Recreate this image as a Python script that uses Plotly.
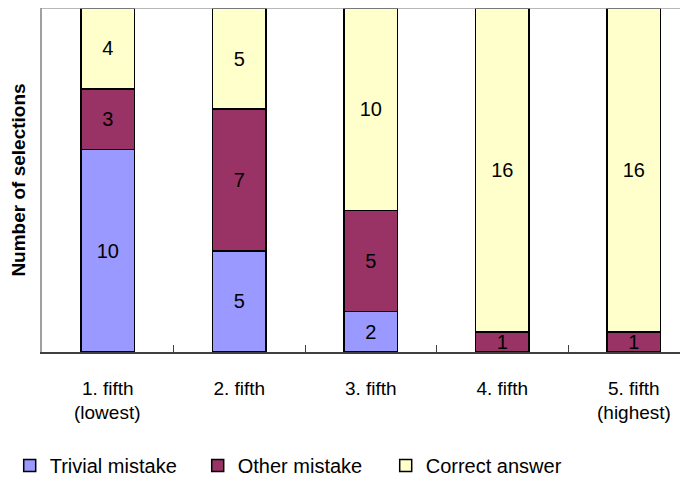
import plotly.graph_objects as go

categories = ["1. fifth", "2. fifth", "3. fifth", "4. fifth", "5. fifth"]
sublabels = ["(lowest)", "", "", "", "(highest)"]
trivial = [10, 5, 2, 0, 0]
other = [3, 7, 5, 1, 1]
correct = [4, 5, 10, 16, 16]

series = [
    ("Trivial mistake", trivial, "#9999FF"),
    ("Other mistake", other, "#993366"),
    ("Correct answer", correct, "#FFFFCC"),
]

FONT = "Liberation Sans, Arial, sans-serif"

fig = go.Figure()
for name, vals, color in series:
    fig.add_trace(go.Bar(
        x=categories, y=vals, name=name,
        marker=dict(color=color, line=dict(color="black", width=1.5)),
        width=0.41,
        text=[str(v) if v else "" for v in vals],
        textposition="inside", insidetextanchor="middle", textangle=0,
        constraintext="none",
        textfont=dict(family=FONT, size=20, color="black"),
    ))

for c, s in zip(categories, sublabels):
    if s:
        fig.add_annotation(x=c, y=0, xref="x", yref="y", text=s, showarrow=False,
                           yshift=-60, font=dict(family=FONT, size=19, color="black"))

fig.add_shape(type="line", xref="paper", yref="paper", x0=0, x1=1, y0=1, y1=1,
              line=dict(color="#A0A0A0", width=1.5))

# the page body has an 8px margin, so the figure is 8px smaller than the window
fig.update_layout(
    barmode="stack",
    width=680, height=473,
    margin=dict(l=34, r=0, t=0, b=129, autoexpand=False),
    plot_bgcolor="white", paper_bgcolor="white",
    font=dict(family=FONT, color="black"),
    showlegend=True,
    legend=dict(orientation="h", x=-0.05, xanchor="left", y=-0.33, yanchor="middle",
                font=dict(family=FONT, size=20, color="black"), traceorder="normal",
                itemwidth=30, entrywidth=143, entrywidthmode="pixels"),
    xaxis=dict(range=[-0.5, 4.4125], showgrid=False, showline=True, linecolor="#404040",
               linewidth=1.5, ticks="inside", tickson="boundaries", ticklen=7,
               tickcolor="#404040", tickwidth=1, automargin=False,
               tickfont=dict(family=FONT, size=19, color="black"),
               ticklabelstandoff=18),
    yaxis=dict(range=[0, 17], showgrid=False, showline=True, linecolor="#A0A0A0",
               linewidth=1.5, showticklabels=False, ticks="", zeroline=False,
               automargin=False,
               title=dict(text="<b>Number of selections</b>", standoff=12,
                          font=dict(family=FONT, size=19, color="black"))),
)

fig.write_html("out.html")
